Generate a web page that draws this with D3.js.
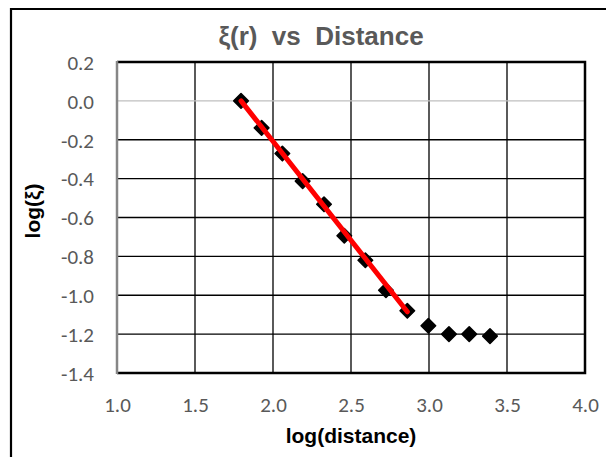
<!DOCTYPE html>
<html>
<head>
<meta charset="utf-8">
<script src="https://cdn.jsdelivr.net/npm/d3@7"></script>
<style>
  body { margin: 0; background: #fff; }
  svg { display: block; }
</style>
</head>
<body>
<svg id="chart" width="606" height="457"></svg>
<script>
// log(distance) and log(xi)
var logDist = [1.795, 1.927, 2.06, 2.19, 2.327, 2.457, 2.592, 2.724, 2.861, 2.996, 3.128, 3.258, 3.391];
var logXi   = [0.0, -0.139, -0.271, -0.413, -0.532, -0.694, -0.82, -0.974, -1.08, -1.157, -1.2, -1.2, -1.21];
// red fit line, end points
var fitX = [1.795, 2.861];
var fitY = [0.0, -1.085];
var xTicks = [1.0, 1.5, 2.0, 2.5, 3.0, 3.5, 4.0];
var yTicks = [0.2, 0.0, -0.2, -0.4, -0.6, -0.8, -1.0, -1.2, -1.4];

var svg = d3.select('#chart');
// note: can't call it "top", that's window.top
var pLeft = 117, pRight = 585, pTop = 62, pBottom = 373;
var tickFont = 'Calibri, Carlito, Lato, sans-serif';

var x = d3.scaleLinear().domain([1, 4]).range([pLeft, pRight]);
var y = d3.scaleLinear().domain([-1.4, 0.2]).range([pBottom, pTop]);

// outer chart frame (right/bottom are outside the picture)
svg.append('path')
  .attr('d', 'M11,457 L11,9 L606,9')
  .attr('fill', 'none')
  .attr('stroke', '#000')
  .attr('stroke-width', 2.2);

// title
svg.append('text')
  .attr('x', 321).attr('y', 45)
  .attr('text-anchor', 'middle')
  .attr('font-family', 'Arial, "Liberation Sans", sans-serif')
  .attr('font-weight', 'bold')
  .attr('font-size', 26)
  .attr('fill', '#595959')
  .style('white-space', 'pre')
  .text('ξ(r)  vs  Distance');

// gridlines
svg.append('g').selectAll('line')
  .data(xTicks.filter(function(d){ return d > 1 && d < 4; }))
  .join('line')
  .attr('x1', function(d){ return x(d); }).attr('x2', function(d){ return x(d); })
  .attr('y1', pTop).attr('y2', pBottom)
  .attr('stroke', '#000').attr('stroke-width', 1.3);

svg.append('g').selectAll('line')
  .data(yTicks.filter(function(d){ return d > -1.4 && d < 0.2; }))
  .join('line')
  .attr('x1', pLeft).attr('x2', pRight)
  .attr('y1', function(d){ return y(d); }).attr('y2', function(d){ return y(d); })
  .attr('stroke', function(d){ return Math.abs(d) < 1e-9 ? '#bfbfbf' : '#000'; })
  .attr('stroke-width', 1.3);

// plot border
svg.append('path')
  .attr('d', 'M' + pLeft + ',' + pTop + ' L' + pRight + ',' + pTop + ' L' + pRight + ',' + pBottom + ' L' + pLeft + ',' + pBottom)
  .attr('fill', 'none')
  .attr('stroke', '#000')
  .attr('stroke-width', 2.5);
// vertical axis line (grey)
svg.append('line')
  .attr('x1', pLeft).attr('x2', pLeft)
  .attr('y1', pTop - 1).attr('y2', pBottom + 1)
  .attr('stroke', '#868686').attr('stroke-width', 2.5);

// tick labels
var xAxis = d3.axisBottom(x).tickValues(xTicks).tickSize(0).tickPadding(0)
  .tickFormat(d3.format('.1f'));
var gx = svg.append('g').attr('transform', 'translate(0,' + pBottom + ')').call(xAxis);
gx.select('.domain').remove();
gx.selectAll('text')
  .attr('y', 39).attr('dy', 0)
  .attr('font-family', tickFont).attr('font-size', 21).attr('fill', '#595959');

var yAxis = d3.axisLeft(y).tickValues(yTicks).tickSize(0).tickPadding(0)
  .tickFormat(d3.format('.1f'));
var gy = svg.append('g').attr('transform', 'translate(94,0)').call(yAxis);
gy.select('.domain').remove();
gy.selectAll('text')
  .attr('x', 0).attr('dy', '0.35em')
  .attr('font-family', tickFont).attr('font-size', 21).attr('fill', '#595959')
  .text(function(d){ return d3.format('.1f')(d).replace('−', '-'); });

// axis titles
svg.append('text')
  .attr('x', (pLeft + pRight) / 2).attr('y', 443)
  .attr('text-anchor', 'middle')
  .attr('font-family', 'Arial, "Liberation Sans", sans-serif')
  .attr('font-weight', 'bold').attr('font-size', 21)
  .attr('fill', '#000')
  .text('log(distance)');

svg.append('text')
  .attr('transform', 'translate(40,211) rotate(-90)')
  .attr('text-anchor', 'middle')
  .attr('font-family', 'Arial, "Liberation Sans", sans-serif')
  .attr('font-weight', 'bold').attr('font-size', 21)
  .attr('fill', '#000')
  .text('log(ξ)');

// markers
var pts = logDist.map(function(d, i){ return { x: d, y: logXi[i] }; });
var diamond = d3.symbol().type(d3.symbolSquare).size(105);
svg.append('g').selectAll('path')
  .data(pts)
  .join('path')
  .attr('d', diamond)
  .attr('transform', function(d){ return 'translate(' + x(d.x) + ',' + y(d.y) + ') rotate(45)'; })
  .attr('fill', '#000')
  .attr('stroke', '#000')
  .attr('stroke-width', 1.6)
  .attr('stroke-linejoin', 'round');

// fit line
var fit = fitX.map(function(d, i){ return { x: d, y: fitY[i] }; });
svg.append('path')
  .datum(fit)
  .attr('d', d3.line().x(function(d){ return x(d.x); }).y(function(d){ return y(d.y); }))
  .attr('fill', 'none')
  .attr('stroke', '#ff0000')
  .attr('stroke-width', 5)
  .attr('stroke-linecap', 'round');
</script>
</body>
</html>
